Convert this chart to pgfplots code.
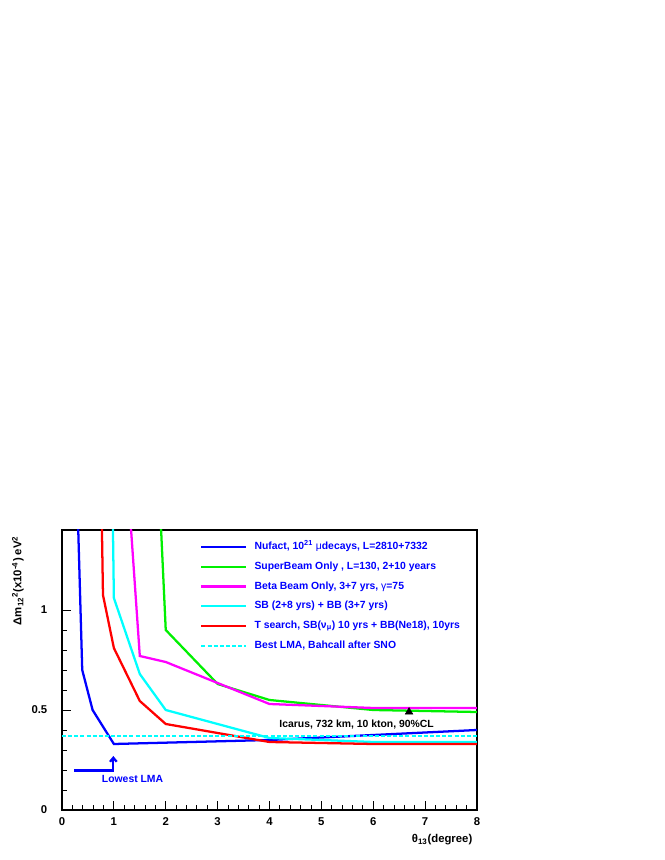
\documentclass[border=0pt]{standalone}
\usepackage{pgfplots}
\pgfplotsset{compat=1.18}
\usepackage{fontspec}
\setmainfont{Liberation Sans}
\usetikzlibrary{arrows.meta}
\definecolor{rblue}{RGB}{0,0,255}
\definecolor{rgreen}{RGB}{0,240,0}
\definecolor{rmag}{RGB}{255,0,255}
\definecolor{rcyan}{RGB}{0,255,255}
\definecolor{rred}{RGB}{255,0,0}
\begin{document}
\begin{tikzpicture}
\useasboundingbox (0,0) rectangle (498pt,645pt);
\begin{axis}[
  at={(46.5pt,37.5pt)}, anchor=south west,
  scale only axis, width=311.25pt, height=210pt,
  xmin=0, xmax=8, ymin=0, ymax=1.4,
  xtick={0,1,...,8}, ytick={0,0.5,1},
  minor x tick num=4, minor y tick num=4,
  tick align=inside, tick pos=left,
  major tick length=6.75pt, minor tick length=3.75pt,
  axis line style={line width=0.8pt},
  every tick/.style={black, line width=0.6pt},
  /pgf/number format/assume math mode=true,
  ticklabel style={font=\bfseries\fontsize{8.5}{10}\selectfont},
  yticklabel style={xshift=-7.5pt},
  xticklabel style={yshift=-2.5pt},
  xlabel={θ\textsubscript{13}(degree)},
  ylabel={Δm\textsubscript{12}\textsuperscript{2}(x10\textsuperscript{-4}) eV\textsuperscript{2}},
  label style={font=\bfseries\fontsize{8.5}{10}\selectfont},
  xlabel style={at={(axis description cs:1,-0.107)}, anchor=east},
  ylabel style={at={(axis description cs:-0.106,0.995)}, anchor=east},
  legend image code/.code={\draw[#1] (0pt,0pt) -- (33.75pt,0pt); \path (39pt,0pt);},
  legend cell align=left,
  legend style={draw=none, fill=none, at={(0.3325,0.964)}, anchor=north west,
    inner sep=0pt, row sep=4.8pt, text=rblue,
    font=\bfseries\fontsize{7.8}{9}\selectfont,
    nodes={inner sep=0pt, text height=7pt, text depth=3pt}},
]
\addplot[rblue, line width=1.7pt] coordinates {(0.3,1.52) (0.39,0.70) (0.59,0.50) (1.0,0.33) (4,0.35) (8,0.40)};
\addlegendentry{Nufact, 10\textsuperscript{21} {\mdseries μ}decays, L=2810+7332}
\addplot[rgreen, line width=1.7pt] coordinates {(1.9,1.46) (2,0.90) (3,0.63) (4,0.55) (6,0.50) (8,0.49)};
\addlegendentry{SuperBeam Only , L=130, 2+10 years}
\addplot[rmag, line width=1.7pt] coordinates {(1.3,1.52) (1.5,0.77) (2,0.74) (4,0.53) (6,0.51) (8,0.51)};
\addlegendentry{Beta Beam Only, 3+7 yrs, {\mdseries γ}=75}
\addplot[rcyan, line width=1.7pt] coordinates {(0.98,1.45) (1.0,1.06) (1.5,0.68) (2,0.50) (4,0.36) (6,0.34) (8,0.34)};
\addlegendentry{SB (2+8 yrs) + BB (3+7 yrs)}
\addplot[rred, line width=1.7pt] coordinates {(0.76,1.56) (0.79,1.075) (1.0,0.81) (1.5,0.545) (2,0.43) (4,0.34) (6,0.33) (8,0.33)};
\addlegendentry{T search, SB(ν\textsubscript{μ}) 10 yrs + BB(Ne18), 10yrs}
\addplot[rcyan, line width=1.7pt, dash pattern=on 3pt off 1.6pt] coordinates {(0,0.37) (8,0.37)};
\addlegendentry{Best LMA, Bahcall after SNO}
\addplot[forget plot, rblue, line width=1.7pt, -{Straight Barb[length=3pt,width=5pt]}] coordinates {(0.24,0.197) (0.99,0.197) (0.99,0.27)};
\addplot[forget plot, only marks, mark=triangle*, mark size=3.3pt, black] coordinates {(6.69,0.49)};
\node[anchor=west, font=\bfseries\fontsize{7.8}{9}\selectfont] at (axis cs:4.1,0.425) {Icarus, 732 km, 10 kton, 90\%CL};
\node[font=\bfseries\fontsize{7.8}{9}\selectfont, text=rblue] at (axis cs:1.36,0.155) {Lowest LMA};
\end{axis}
\end{tikzpicture}
\end{document}
